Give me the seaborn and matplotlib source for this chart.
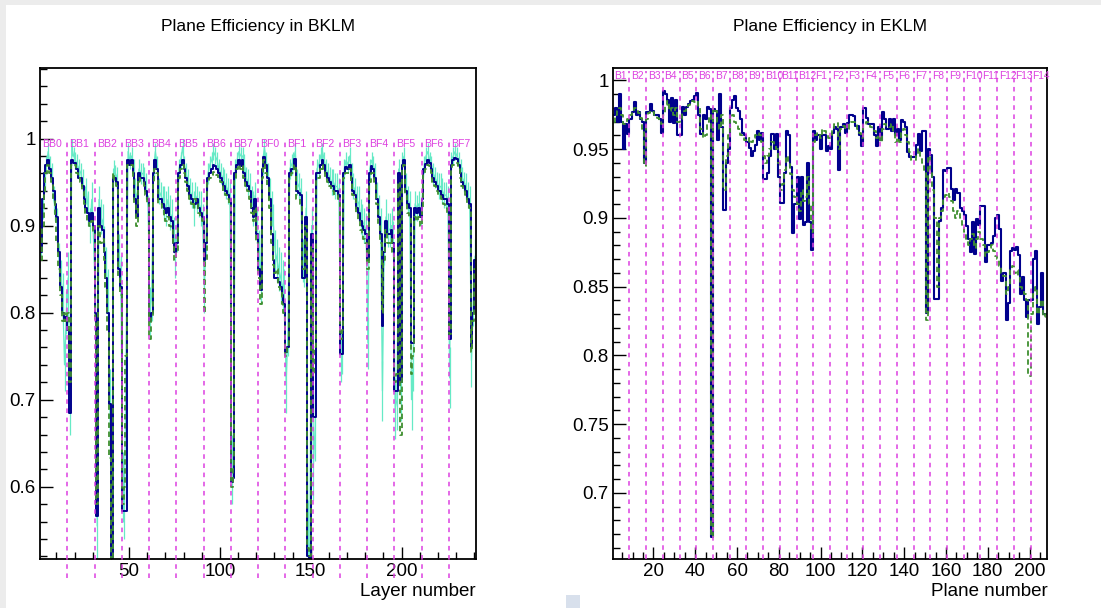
import numpy as np
import pandas as pd
import matplotlib
matplotlib.use('Agg')
import matplotlib.pyplot as plt
import seaborn as sns
from matplotlib.ticker import MultipleLocator, FuncFormatter
from matplotlib.patches import Rectangle

# Sector names
bklm_sectors = ['BB0', 'BB1', 'BB2', 'BB3', 'BB4', 'BB5', 'BB6', 'BB7',
                'BF0', 'BF1', 'BF2', 'BF3', 'BF4', 'BF5', 'BF6', 'BF7']
eklm_sectors = ['B1', 'B2', 'B3', 'B4', 'B5', 'B6', 'B7', 'B8', 'B9', 'B10', 'B11', 'B12',
                'F1', 'F2', 'F3', 'F4', 'F5', 'F6', 'F7', 'F8', 'F9', 'F10', 'F11', 'F12', 'F13', 'F14']

# BKLM plane efficiency, 15 layers per sector (one row per sector)
bklm_navy = [
    0.87, 0.93, 0.96, 0.97, 0.975, 0.965, 0.955, 0.94, 0.925, 0.91, 0.87, 0.83, 0.80, 0.79, 0.795,
    0.78, 0.685, 0.975, 0.972, 0.972, 0.965, 0.955, 0.955, 0.945, 0.93, 0.92, 0.915, 0.905, 0.915, 0.90,
    0.80, 0.566, 0.92, 0.90, 0.895, 0.87, 0.84, 0.80, 0.695, 0.50, 0.955, 0.955, 0.95, 0.85, 0.83,
    0.572, 0.572, 0.572, 0.975, 0.97, 0.975, 0.96, 0.93, 0.91, 0.96, 0.955, 0.955, 0.95, 0.94, 0.93,
    0.79, 0.80, 0.96, 0.975, 0.965, 0.93, 0.93, 0.925, 0.92, 0.915, 0.92, 0.91, 0.905, 0.88, 0.87,
    0.88, 0.96, 0.97, 0.975, 0.965, 0.955, 0.945, 0.935, 0.93, 0.925, 0.925, 0.93, 0.92, 0.915, 0.91,
    0.86, 0.88, 0.955, 0.96, 0.965, 0.97, 0.968, 0.965, 0.96, 0.955, 0.95, 0.945, 0.94, 0.935, 0.93,
    0.605, 0.61, 0.96, 0.97, 0.975, 0.968, 0.975, 0.96, 0.95, 0.945, 0.94, 0.92, 0.91, 0.93, 0.89,
    0.85, 0.826, 0.965, 0.979, 0.97, 0.955, 0.93, 0.89, 0.86, 0.84, 0.84, 0.835, 0.83, 0.82, 0.81,
    0.755, 0.76, 0.96, 0.965, 0.965, 0.977, 0.94, 0.937, 0.935, 0.84, 0.84, 0.91, 0.52, 0.50, 0.89,
    0.68, 0.68, 0.96, 0.96, 0.97, 0.975, 0.97, 0.96, 0.955, 0.95, 0.945, 0.945, 0.94, 0.94, 0.935,
    0.752, 0.752, 0.96, 0.967, 0.965, 0.97, 0.955, 0.94, 0.935, 0.92, 0.915, 0.905, 0.90, 0.895, 0.89,
    0.86, 0.96, 0.968, 0.965, 0.955, 0.93, 0.91, 0.89, 0.785, 0.87, 0.905, 0.89, 0.89, 0.895, 0.88,
    0.71, 0.71, 0.96, 0.72, 0.97, 0.975, 0.94, 0.925, 0.92, 0.765, 0.765, 0.92, 0.915, 0.92, 0.91,
    0.93, 0.965, 0.971, 0.975, 0.972, 0.965, 0.955, 0.95, 0.945, 0.94, 0.94, 0.935, 0.93, 0.93, 0.925,
    0.77, 0.97, 0.975, 0.978, 0.977, 0.97, 0.96, 0.95, 0.945, 0.94, 0.93, 0.925, 0.76, 0.80, 0.86,
]
bklm_green = [
    0.86, 0.90, 0.94, 0.96, 0.97, 0.96, 0.95, 0.93, 0.91, 0.88, 0.85, 0.82, 0.79, 0.80, 0.79,
    0.80, 0.72, 0.97, 0.968, 0.97, 0.96, 0.955, 0.95, 0.94, 0.925, 0.915, 0.905, 0.90, 0.905, 0.89,
    0.79, 0.58, 0.90, 0.88, 0.885, 0.86, 0.83, 0.78, 0.633, 0.50, 0.96, 0.95, 0.945, 0.84, 0.82,
    0.58, 0.60, 0.75, 0.97, 0.968, 0.97, 0.955, 0.925, 0.90, 0.955, 0.95, 0.95, 0.945, 0.935, 0.925,
    0.77, 0.795, 0.95, 0.965, 0.96, 0.925, 0.925, 0.92, 0.91, 0.905, 0.91, 0.90, 0.895, 0.875, 0.86,
    0.87, 0.955, 0.965, 0.97, 0.96, 0.95, 0.94, 0.93, 0.925, 0.92, 0.93, 0.925, 0.915, 0.91, 0.905,
    0.80, 0.86, 0.95, 0.955, 0.958, 0.962, 0.96, 0.958, 0.955, 0.95, 0.945, 0.94, 0.935, 0.93, 0.925,
    0.60, 0.62, 0.955, 0.965, 0.97, 0.965, 0.968, 0.955, 0.945, 0.94, 0.93, 0.915, 0.905, 0.92, 0.88,
    0.84, 0.81, 0.955, 0.975, 0.96, 0.945, 0.92, 0.88, 0.855, 0.845, 0.85, 0.83, 0.825, 0.81, 0.80,
    0.75, 0.76, 0.955, 0.96, 0.96, 0.97, 0.93, 0.93, 0.925, 0.85, 0.85, 0.90, 0.53, 0.52, 0.875,
    0.73, 0.76, 0.955, 0.955, 0.965, 0.97, 0.965, 0.955, 0.95, 0.945, 0.94, 0.94, 0.935, 0.935, 0.93,
    0.77, 0.78, 0.955, 0.96, 0.96, 0.965, 0.95, 0.935, 0.93, 0.915, 0.905, 0.895, 0.89, 0.885, 0.88,
    0.85, 0.95, 0.96, 0.96, 0.95, 0.925, 0.90, 0.88, 0.80, 0.86, 0.895, 0.88, 0.88, 0.885, 0.87,
    0.72, 0.73, 0.95, 0.66, 0.965, 0.97, 0.935, 0.915, 0.91, 0.73, 0.75, 0.91, 0.905, 0.91, 0.90,
    0.92, 0.96, 0.965, 0.97, 0.968, 0.96, 0.95, 0.945, 0.94, 0.935, 0.935, 0.93, 0.925, 0.92, 0.915,
    0.775, 0.965, 0.97, 0.972, 0.972, 0.965, 0.955, 0.945, 0.94, 0.935, 0.925, 0.92, 0.755, 0.79, 0.85,
]
bklm_cyan = [
    0.88, 0.92, 0.95, 0.97, 0.985, 0.97, 0.96, 0.93, 0.92, 0.90, 0.86, 0.84, 0.82, 0.74, 0.80,
    0.84, 0.70, 0.99, 0.98, 0.975, 0.97, 0.965, 0.96, 0.95, 0.93, 0.94, 0.92, 0.90, 0.93, 0.88,
    0.82, 0.555, 0.93, 0.91, 0.905, 0.88, 0.85, 0.82, 0.70, 0.50, 0.965, 0.96, 0.955, 0.87, 0.84,
    0.60, 0.58, 0.77, 0.985, 0.975, 0.98, 0.965, 0.94, 0.93, 0.965, 0.96, 0.96, 0.955, 0.945, 0.92,
    0.80, 0.82, 0.965, 0.985, 0.97, 0.94, 0.935, 0.93, 0.925, 0.92, 0.93, 0.915, 0.91, 0.89, 0.865,
    0.89, 0.965, 0.975, 0.99, 0.97, 0.96, 0.95, 0.94, 0.935, 0.92, 0.935, 0.93, 0.925, 0.92, 0.905,
    0.83, 0.89, 0.96, 0.97, 0.975, 0.985, 0.98, 0.975, 0.965, 0.96, 0.955, 0.95, 0.945, 0.94, 0.935,
    0.62, 0.65, 0.965, 0.975, 0.985, 0.98, 0.98, 0.97, 0.955, 0.95, 0.945, 0.93, 0.92, 0.935, 0.90,
    0.87, 0.84, 0.97, 0.99, 0.975, 0.96, 0.94, 0.92, 0.90, 0.87, 0.86, 0.85, 0.84, 0.83, 0.82,
    0.72, 0.78, 0.965, 0.97, 0.975, 0.985, 0.95, 0.945, 0.94, 0.86, 0.855, 0.92, 0.545, 0.51, 0.90,
    0.625, 0.67, 0.965, 0.97, 0.98, 0.985, 0.975, 0.965, 0.96, 0.955, 0.95, 0.95, 0.945, 0.945, 0.94,
    0.75, 0.76, 0.965, 0.975, 0.97, 0.98, 0.96, 0.945, 0.94, 0.93, 0.925, 0.91, 0.905, 0.90, 0.895,
    0.765, 0.965, 0.975, 0.97, 0.96, 0.935, 0.915, 0.90, 0.71, 0.88, 0.91, 0.895, 0.895, 0.90, 0.885,
    0.69, 0.70, 0.965, 0.71, 0.975, 0.98, 0.945, 0.93, 0.925, 0.70, 0.74, 0.925, 0.92, 0.925, 0.915,
    0.935, 0.97, 0.98, 0.985, 0.975, 0.97, 0.96, 0.955, 0.95, 0.945, 0.945, 0.94, 0.935, 0.935, 0.93,
    0.725, 0.975, 0.98, 0.985, 0.98, 0.975, 0.965, 0.955, 0.95, 0.945, 0.935, 0.93, 0.745, 0.81, 0.865,
]
bklm_cyan_err = [
    .015, .012, .01, .01, .01, .01, .012, .015, .015, .02, .02, .02, .025, .03, .025,
    .03, .04, .01, .01, .01, .012, .012, .012, .015, .015, .015, .02, .02, .02, .02,
    .03, .04, .015, .02, .02, .02, .025, .03, .035, .04, .01, .01, .012, .02, .025,
    .04, .04, .03, .01, .01, .01, .012, .015, .015, .012, .012, .012, .012, .015, .015,
    .03, .03, .012, .01, .01, .015, .015, .015, .02, .02, .015, .02, .02, .02, .025,
    .02, .012, .01, .01, .01, .012, .015, .015, .015, .02, .015, .015, .015, .02, .02,
    .03, .025, .012, .01, .01, .01, .01, .01, .012, .012, .012, .015, .015, .015, .015,
    .04, .04, .012, .01, .01, .01, .01, .012, .012, .015, .015, .015, .02, .015, .02,
    .025, .03, .012, .01, .01, .012, .015, .02, .025, .025, .025, .025, .03, .03, .03,
    .035, .03, .012, .012, .01, .01, .015, .015, .015, .025, .025, .02, .04, .04, .02,
    .04, .04, .012, .012, .01, .01, .01, .012, .012, .012, .015, .015, .015, .015, .015,
    .03, .03, .012, .01, .01, .01, .012, .015, .015, .015, .02, .02, .02, .02, .02,
    .03, .012, .01, .01, .012, .015, .02, .02, .035, .025, .02, .02, .02, .02, .02,
    .035, .035, .012, .035, .01, .01, .015, .015, .015, .035, .03, .015, .015, .015, .015,
    .015, .01, .01, .01, .01, .01, .012, .012, .012, .015, .015, .015, .015, .015, .015,
    .035, .01, .01, .01, .01, .01, .012, .012, .012, .015, .015, .015, .03, .025, .02,
]

# EKLM plane efficiency, 8 planes per sector (one row per sector)
eklm_navy = [
    0.975, 0.98, 0.97, 0.99, 0.97, 0.95, 0.968, 0.961,
    0.972, 0.977, 0.984, 0.975, 0.977, 0.972, 0.97, 0.94,
    0.977, 0.977, 0.983, 0.978, 0.975, 0.975, 0.972, 0.962,
    0.992, 0.99, 0.986, 0.97, 0.987, 0.969, 0.986, 0.96,
    0.96, 0.981, 0.975, 0.981, 0.983, 0.985, 0.986, 0.989,
    0.991, 0.975, 0.961, 0.975, 0.972, 0.981, 0.979, 0.668,
    0.979, 0.978, 0.957, 0.99, 0.966, 0.906, 0.94, 0.95,
    0.98, 0.986, 0.989, 0.98, 0.978, 0.972, 0.962, 0.96,
    0.955, 0.951, 0.945, 0.949, 0.953, 0.963, 0.957, 0.962,
    0.928, 0.928, 0.933, 0.945, 0.961, 0.95, 0.961, 0.93,
    0.911, 0.911, 0.933, 0.963, 0.96, 0.937, 0.889, 0.91,
    0.93, 0.899, 0.93, 0.895, 0.897, 0.94, 0.897, 0.877,
    0.963, 0.957, 0.96, 0.95, 0.96, 0.96, 0.949, 0.952,
    0.95, 0.962, 0.966, 0.965, 0.935, 0.966, 0.968, 0.962,
    0.969, 0.975, 0.975, 0.974, 0.967, 0.967, 0.96, 0.952,
    0.98, 0.973, 0.968, 0.968, 0.968, 0.96, 0.952, 0.966,
    0.957, 0.977, 0.972, 0.965, 0.972, 0.963, 0.972, 0.96,
    0.965, 0.957, 0.971, 0.97, 0.966, 0.948, 0.944, 0.944,
    0.944, 0.953, 0.961, 0.949, 0.963, 0.963, 0.831, 0.95,
    0.946, 0.93, 0.841, 0.841, 0.898, 0.907, 0.935, 0.934,
    0.936, 0.936, 0.921, 0.913, 0.921, 0.918, 0.907, 0.905,
    0.902, 0.894, 0.885, 0.875, 0.897, 0.874, 0.899, 0.895,
    0.909, 0.909, 0.868, 0.88, 0.88, 0.882, 0.887, 0.9,
    0.902, 0.892, 0.854, 0.86, 0.826, 0.838, 0.876, 0.878,
    0.877, 0.879, 0.873, 0.845, 0.857, 0.84, 0.828, 0.84,
    0.84, 0.87, 0.876, 0.823, 0.835, 0.86, 0.83, 0.83,
]
eklm_green = [
    0.97, 0.975, 0.978, 0.98, 0.975, 0.968, 0.97, 0.972,
    0.975, 0.978, 0.98, 0.978, 0.976, 0.973, 0.965, 0.938,
    0.972, 0.976, 0.978, 0.977, 0.975, 0.973, 0.97, 0.968,
    0.975, 0.982, 0.985, 0.978, 0.98, 0.975, 0.98, 0.97,
    0.972, 0.976, 0.978, 0.98, 0.982, 0.983, 0.985, 0.984,
    0.985, 0.98, 0.965, 0.958, 0.96, 0.97, 0.975, 0.668,
    0.98, 0.978, 0.97, 0.965, 0.975, 0.92, 0.945, 0.96,
    0.972, 0.975, 0.97, 0.968, 0.965, 0.96, 0.958, 0.957,
    0.955, 0.958, 0.955, 0.958, 0.96, 0.962, 0.96, 0.955,
    0.945, 0.94, 0.945, 0.95, 0.955, 0.953, 0.95, 0.94,
    0.92, 0.925, 0.935, 0.945, 0.94, 0.932, 0.92, 0.915,
    0.91, 0.905, 0.92, 0.912, 0.915, 0.93, 0.91, 0.89,
    0.955, 0.96, 0.962, 0.958, 0.965, 0.963, 0.96, 0.958,
    0.96, 0.965, 0.968, 0.969, 0.95, 0.965, 0.967, 0.965,
    0.965, 0.968, 0.97, 0.97, 0.968, 0.965, 0.962, 0.958,
    0.968, 0.97, 0.968, 0.966, 0.965, 0.963, 0.958, 0.96,
    0.955, 0.965, 0.968, 0.967, 0.966, 0.968, 0.962, 0.955,
    0.958, 0.955, 0.962, 0.965, 0.96, 0.955, 0.948, 0.942,
    0.942, 0.945, 0.95, 0.945, 0.94, 0.935, 0.826, 0.945,
    0.935, 0.92, 0.90, 0.85, 0.90, 0.905, 0.915, 0.917,
    0.918, 0.915, 0.912, 0.905, 0.90, 0.905, 0.90, 0.895,
    0.89, 0.885, 0.88, 0.885, 0.888, 0.878, 0.885, 0.89,
    0.885, 0.88, 0.872, 0.875, 0.878, 0.88, 0.876, 0.872,
    0.87, 0.865, 0.86, 0.858, 0.845, 0.85, 0.862, 0.865,
    0.86, 0.862, 0.858, 0.85, 0.848, 0.845, 0.84, 0.785,
    0.83, 0.845, 0.85, 0.83, 0.835, 0.84, 0.828, 0.83,
]

NAVY = '#00008c'
GREEN = '#3f8f2f'
CYAN = '#66eac6'
MAGENTA = '#dd40e0'

sns.set_theme(style='ticks', rc={'axes.edgecolor': 'black', 'xtick.color': 'black',
                                 'ytick.color': 'black', 'text.color': 'black',
                                 'axes.labelcolor': 'black'})
plt.rcParams['font.family'] = ['Liberation Sans', 'DejaVu Sans']

W, H = 1101, 608
fig = plt.figure(figsize=(W / 100, H / 100), dpi=100, facecolor='#ececec')
fig.add_artist(Rectangle((6 / W, 0), 1, 1 - 5 / H, transform=fig.transFigure,
                         facecolor='white', edgecolor='none', zorder=-5))
fig.add_artist(Rectangle((566 / W, 0), 14 / W, 13 / H, transform=fig.transFigure,
                         facecolor='#d8e0ec', edgecolor='none', zorder=-4))

ax1 = fig.add_axes([40 / W, 1 - 559 / H, 436 / W, 491 / H])
ax2 = fig.add_axes([612.7 / W, 1 - 559 / H, 434.6 / W, 491 / H])

df_b = pd.DataFrame({'layer': np.arange(1, 241) + 0.5, 'navy': bklm_navy,
                     'green': bklm_green, 'cyan': bklm_cyan, 'err': bklm_cyan_err})
df_e = pd.DataFrame({'plane': np.arange(1, 209), 'navy': eklm_navy, 'green': eklm_green})

# BKLM panel
sns.lineplot(data=df_b, x='layer', y='cyan', ax=ax1, color=CYAN, lw=0.9,
             estimator=None, sort=False)
ax1.errorbar(df_b['layer'], df_b['cyan'], yerr=df_b['err'], fmt='none',
             ecolor=CYAN, elinewidth=0.9)
sns.lineplot(data=df_b, x='layer', y='navy', ax=ax1, color=NAVY, lw=1.4,
             drawstyle='steps-mid', estimator=None, sort=False)
sns.lineplot(data=df_b, x='layer', y='green', ax=ax1, color=GREEN, lw=1.3,
             linestyle=(0, (3, 2)), drawstyle='steps-mid', estimator=None, sort=False)

# EKLM panel
sns.lineplot(data=df_e, x='plane', y='navy', ax=ax2, color=NAVY, lw=1.5,
             drawstyle='steps-mid', estimator=None, sort=False)
sns.lineplot(data=df_e, x='plane', y='green', ax=ax2, color=GREEN, lw=1.3,
             linestyle=(0, (3, 2)), drawstyle='steps-mid', estimator=None, sort=False)

ax1.set_xlim(1, 241)
ax1.set_ylim(0.517, 1.081)
ax2.set_xlim(0.5, 208.5)
ax2.set_ylim(0.652, 1.009)

# sector dividers and labels
for k, name in enumerate(bklm_sectors):
    x0 = 1 + 15 * k
    if k > 0:
        ax1.plot([x0, x0], [0.495, 1.0], color=MAGENTA, lw=1.1, ls=(0, (3, 3)),
                 clip_on=False, zorder=6)
    ax1.text(x0 + 1.2, 0.994, name, color=MAGENTA, fontsize=7.6, va='center', zorder=7)

for k, name in enumerate(eklm_sectors):
    x0 = 0.5 + 8 * k
    if k > 0:
        ax2.plot([x0, x0], [0.652, 1.007], color=MAGENTA, lw=1.1, ls=(0, (3, 3)),
                 clip_on=False, zorder=6)
    ax2.text(x0 + (0.5 if k == 0 else 0.8), 1.003, name, color=MAGENTA, fontsize=7.4,
             va='center', zorder=7)

fmt = FuncFormatter(lambda v, _: f'{v:g}')
for ax, xmaj, xmin, ymaj, ymin in [(ax1, 50, 10, 0.1, 0.02), (ax2, 20, 5, 0.05, 0.01)]:
    ax.set_facecolor('white')
    ax.xaxis.set_major_locator(MultipleLocator(xmaj))
    ax.xaxis.set_minor_locator(MultipleLocator(xmin))
    ax.yaxis.set_major_locator(MultipleLocator(ymaj))
    ax.yaxis.set_minor_locator(MultipleLocator(ymin))
    ax.yaxis.set_major_formatter(fmt)
    ax.tick_params(which='both', direction='in', bottom=True, left=True,
                   top=False, right=False, width=1, colors='black')
    ax.tick_params(which='major', length=9, labelsize=13.5, pad=3)
    ax.tick_params(which='minor', length=5)
    for s in ax.spines.values():
        s.set_linewidth(1.3)
        s.set_color('black')
    ax.set_ylabel('')

ax1.set_xlabel('Layer number', fontsize=13.5, loc='right')
ax1.xaxis.set_label_coords(1.0, -0.048)
ax2.set_xlabel('Plane number', fontsize=13.5, loc='right')
ax2.xaxis.set_label_coords(1.0, -0.048)

fig.text(258 / W, 1 - 27 / H, 'Plane Efficiency in BKLM', ha='center', va='center', fontsize=12.5)
fig.text(830 / W, 1 - 27 / H, 'Plane Efficiency in EKLM', ha='center', va='center', fontsize=12.5)

fig.savefig('out.png', dpi=100, facecolor=fig.get_facecolor())
